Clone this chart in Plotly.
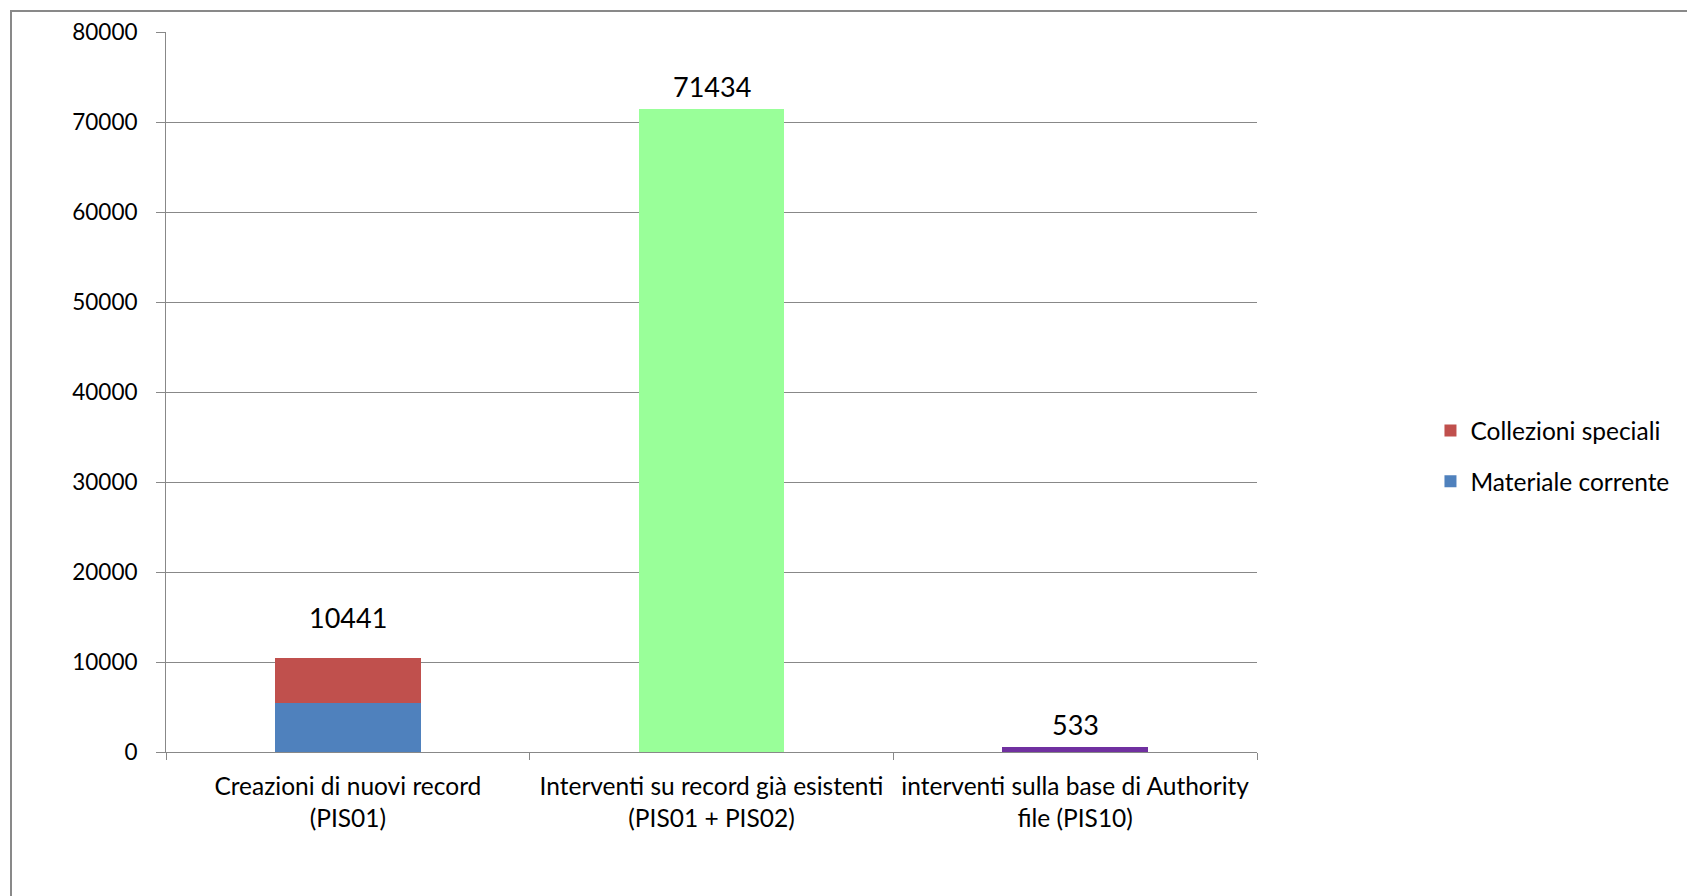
import plotly.graph_objects as go

categories = [
    "Creazioni di nuovi record<br>(PIS01)",
    "Interventi su record già esistenti<br>(PIS01 + PIS02)",
    "interventi sulla base di Authority<br>file (PIS10)",
]
materiale_corrente = [5450, None, None]
collezioni_speciali = [4991, None, None]
altri_valori = [None, 71434, 533]
altri_colori = ["#99FF99", "#99FF99", "#7030A0"]
totali = [10441, 71434, 533]
y_ticks = [0, 10000, 20000, 30000, 40000, 50000, 60000, 70000, 80000]

FONT = "Lato, 'Liberation Sans', sans-serif"
GRID = "#888888"

fig = go.Figure()
fig.add_trace(go.Bar(x=categories, y=materiale_corrente, name="Materiale corrente",
                     marker=dict(color="#4F81BD", line=dict(width=0)), width=0.4,
                     legendgroup="mc", legendrank=2))
fig.add_trace(go.Bar(x=categories, y=collezioni_speciali, name="Collezioni speciali",
                     marker=dict(color="#C0504D", line=dict(width=0)), width=0.4,
                     legendgroup="cs", legendrank=1))
fig.add_trace(go.Bar(x=categories, y=altri_valori, name="altri",
                     marker=dict(color=altri_colori, line=dict(width=0)), width=0.4,
                     showlegend=False, legendgroup="zz", legendrank=3))

stacked = [m is not None and c is not None for m, c in zip(materiale_corrente, collezioni_speciali)]
for c, t, s in zip(categories, totali, stacked):
    fig.add_annotation(x=c, y=t, text=str(t), showarrow=False, yanchor="bottom",
                       yshift=22 if s else 4,
                       font=dict(family=FONT, size=27, color="#000000"))

# outer border (chart area frame)
fig.add_shape(type="rect", xref="paper", yref="paper",
              x0=(11 - 166) / 1091, x1=2.0, y0=-1.0, y1=(752 - 11) / 720,
              line=dict(color="#898989", width=2), fillcolor="rgba(0,0,0,0)",
              layer="below")

fig.update_layout(
    width=1687, height=896,
    margin=dict(l=166, r=430, t=32, b=144, autoexpand=False),
    barmode="stack",
    paper_bgcolor="white", plot_bgcolor="white",
    font=dict(family=FONT, size=22, color="#000000"),
    showlegend=True,
    legend=dict(x=1.159, y=0.411, xanchor="left", yanchor="middle",
                traceorder="grouped", tracegroupgap=16,
                font=dict(family=FONT, size=24.5, color="#000000"),
                itemwidth=30, bgcolor="rgba(0,0,0,0)"),
)
fig.update_yaxes(range=[0, 80000], tickvals=y_ticks, ticktext=[str(v) for v in y_ticks],
                 tickfont=dict(family=FONT, size=22.5, color="#000000"),
                 showgrid=True, gridcolor=GRID, gridwidth=1,
                 showline=True, linecolor=GRID, linewidth=1,
                 ticks="outside", ticklen=9, tickcolor=GRID,
                 ticklabelstandoff=14, zeroline=False, fixedrange=True)
fig.update_xaxes(showgrid=False, showline=True, linecolor=GRID, linewidth=1,
                 tickfont=dict(family=FONT, size=24.5, color="#000000"),
                 ticks="outside", tickson="boundaries", ticklen=7, tickcolor=GRID,
                 ticklabelstandoff=13, fixedrange=True)

fig.write_html("out.html", config={"displayModeBar": False})
